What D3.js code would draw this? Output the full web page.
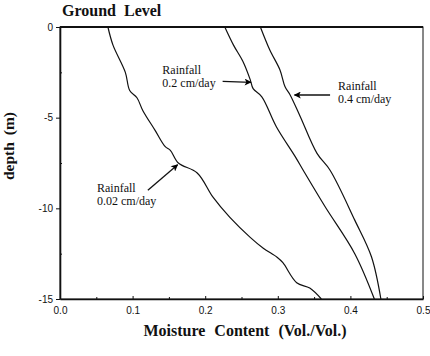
<!DOCTYPE html>
<html><head><meta charset="utf-8">
<script src="https://cdn.jsdelivr.net/npm/d3@7"></script>
<style>body{margin:0;background:#fff}svg{display:block}</style>
</head><body>
<svg id="c" width="430" height="356"></svg>
<script>
const xTicks = [0.0, 0.1, 0.2, 0.3, 0.4, 0.5];
const yTicks = [0, -5, -10, -15];
const rain002 = [[0.066,0],[0.073,-1.0],[0.090,-2.5],[0.096,-3.5],[0.106,-3.9],[0.114,-4.6],[0.131,-5.7],[0.145,-6.6],[0.152,-6.8],[0.163,-7.5],[0.189,-8.05],[0.211,-9.4],[0.234,-10.5],[0.262,-11.6],[0.280,-12.2],[0.299,-12.7],[0.307,-13.0],[0.326,-14.1],[0.344,-14.4],[0.360,-15]];
const rain02 = [[0.227,0],[0.239,-1.0],[0.252,-1.9],[0.262,-2.9],[0.266,-3.4],[0.278,-3.85],[0.298,-5.5],[0.324,-7.15],[0.335,-7.9],[0.365,-9.9],[0.406,-12.5],[0.433,-15]];
const rain04 = [[0.276,0],[0.289,-1.27],[0.303,-2.37],[0.310,-3.3],[0.317,-3.75],[0.331,-4.95],[0.354,-6.97],[0.372,-7.9],[0.406,-10.65],[0.429,-12.67],[0.442,-15]];
const labels = [
  {lines:["Rainfall","0.2 cm/day"], tx:0.141, ty:-2.6, from:[0.224,-3.0], to:[0.263,-3.05]},
  {lines:["Rainfall","0.4 cm/day"], tx:0.383, ty:-3.5, from:[0.372,-3.75], to:[0.323,-3.75]},
  {lines:["Rainfall","0.02 cm/day"], tx:0.051, ty:-9.1, from:[0.121,-9.0], to:[0.162,-7.6]}
];

const svg = d3.select("#c");
const L=60, R=423, T=27, B=299;
const x = d3.scaleLinear().domain([0,0.5]).range([L,R]);
const y = d3.scaleLinear().domain([0,-15]).range([T,B]);

svg.append("defs").append("marker").attr("id","ah").attr("viewBox","0 0 10 10")
  .attr("refX",9).attr("refY",5).attr("markerWidth",9).attr("markerHeight",7)
  .attr("markerUnits","userSpaceOnUse").attr("orient","auto")
  .append("path").attr("d","M0,0L10,5L0,10L2.5,5Z").attr("fill","#000");

// frame
svg.append("rect").attr("x",L).attr("y",T).attr("width",R-L).attr("height",B-T)
  .attr("fill","none").attr("stroke","#111").attr("stroke-width",1);
svg.append("line").attr("x1",L).attr("x2",R).attr("y1",T).attr("y2",T).attr("stroke","#111").attr("stroke-width",1.8);

const sans = "Liberation Sans, Arial, sans-serif";
const serif = "Liberation Serif, Times New Roman, serif";

// x axis
svg.append("g").attr("transform",`translate(0,${B})`)
  .call(d3.axisBottom(x).tickValues(xTicks).tickFormat(d=>d.toFixed(1)).tickSizeInner(-3).tickSizeOuter(0).tickPadding(8));
svg.append("g").attr("transform",`translate(0,${B})`)
  .call(d3.axisBottom(x).tickValues(d3.range(0.05,0.5,0.1)).tickFormat("").tickSizeInner(-2).tickSizeOuter(0))
  .select(".domain").remove();
// y axis
svg.append("g").attr("transform",`translate(${L},0)`)
  .call(d3.axisLeft(y).tickValues(yTicks).tickFormat(d=>String(d)).tickSizeInner(4).tickSizeOuter(0).tickPadding(3));
svg.append("g").attr("transform",`translate(${L},0)`)
  .call(d3.axisLeft(y).tickValues([-2.5,-7.5,-12.5]).tickFormat("").tickSizeInner(-2).tickSizeOuter(0))
  .select(".domain").remove();
svg.selectAll(".domain").attr("stroke","#111").attr("stroke-width",1.6);
svg.selectAll(".tick line").attr("stroke","#111");
svg.selectAll(".tick text").attr("font-family",sans).attr("font-size",10).attr("fill","#111");

// curves
const line = d3.line().x(d=>x(d[0])).y(d=>y(d[1])).curve(d3.curveCatmullRom.alpha(0.5));
[rain002, rain02, rain04].forEach(s=>{
  svg.append("path").attr("d",line(s)).attr("fill","none").attr("stroke","#111").attr("stroke-width",1.2);
});

// annotations
labels.forEach(a=>{
  const t = svg.append("text").attr("font-family",serif).attr("font-size",12).attr("fill","#111");
  a.lines.forEach((s,i)=>t.append("tspan").attr("x",x(a.tx)).attr("y",y(a.ty)+i*13).text(s));
  svg.append("line").attr("x1",x(a.from[0])).attr("y1",y(a.from[1])).attr("x2",x(a.to[0])).attr("y2",y(a.to[1]))
    .attr("stroke","#111").attr("stroke-width",1.3).attr("marker-end","url(#ah)");
});

// titles
svg.append("text").attr("x",62).attr("y",16).attr("font-family",serif).attr("font-weight","bold")
  .attr("font-size",16).attr("word-spacing",4).attr("fill","#111").text("Ground Level");
svg.append("text").attr("x",245).attr("y",336).attr("text-anchor","middle").attr("font-family",serif)
  .attr("font-weight","bold").attr("font-size",16).attr("word-spacing",5).attr("fill","#111")
  .text("Moisture Content (Vol./Vol.)");
svg.append("text").attr("transform",`translate(14,146) rotate(-90)`).attr("text-anchor","middle")
  .attr("font-family",serif).attr("font-weight","bold").attr("font-size",15.5).attr("word-spacing",3).attr("fill","#111")
  .text("depth (m)");
</script>
</body></html>
